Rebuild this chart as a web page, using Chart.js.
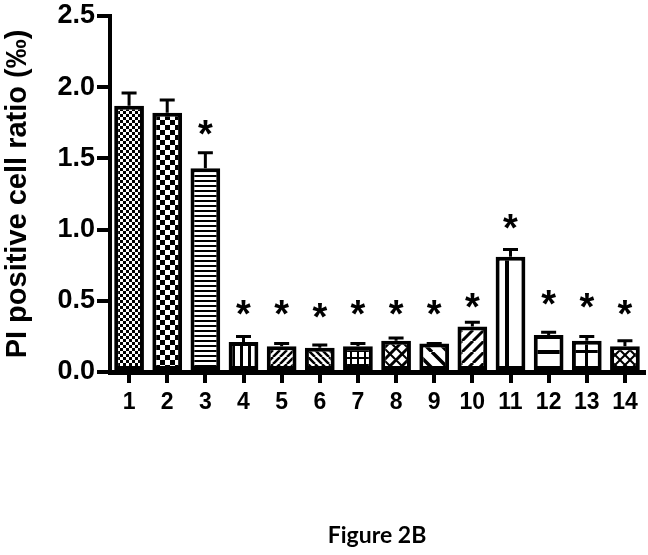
<!DOCTYPE html>
<html>
<head>
<meta charset="utf-8">
<script src="https://cdn.jsdelivr.net/npm/chart.js@4"></script>
<style>
  html, body { margin: 0; padding: 0; background: #fff; }
</style>
</head>
<body>
<canvas id="chart" width="648" height="555"></canvas>
<script>
const groups = ['1', '2', '3', '4', '5', '6', '7', '8', '9', '10', '11', '12', '13', '14'];
const means = [1.87, 1.82, 1.43, 0.21, 0.18, 0.17, 0.18, 0.22, 0.20, 0.32, 0.81, 0.26, 0.22, 0.18];
const sems = [0.10, 0.10, 0.12, 0.05, 0.03, 0.03, 0.03, 0.03, 0.01, 0.04, 0.06, 0.03, 0.04, 0.05];
// where the significance stars sit (value units), null = no star
const stars = [null, null, 1.73, 0.46, 0.46, 0.44, 0.46, 0.46, 0.46, 0.51, 1.07, 0.53, 0.51, 0.46];
const yTicks = [0, 0.5, 1.0, 1.5, 2.0, 2.5];

// little tile canvases turned into fill patterns
function pat(w, h, draw) {
  const c = document.createElement('canvas');
  c.width = w; c.height = h;
  const g = c.getContext('2d');
  g.fillStyle = '#fff';
  g.fillRect(0, 0, w, h);
  g.fillStyle = '#000';
  g.strokeStyle = '#000';
  draw(g, w, h);
  return g.createPattern(c, 'repeat');
}
function diag(g, s, lw, dir) {
  g.lineWidth = lw;
  g.beginPath();
  for (let k = -1; k <= 1; k++) {
    if (dir > 0) { g.moveTo(k * s, s); g.lineTo(k * s + s, 0); }
    else { g.moveTo(k * s, 0); g.lineTo(k * s + s, s); }
  }
  g.stroke();
}

const fills = [
  pat(6, 6, g => { g.fillRect(0, 0, 3, 3); g.fillRect(3, 3, 3, 3); }),
  pat(10, 10, g => { g.fillRect(0, 0, 5, 5); g.fillRect(5, 5, 5, 5); }),
  pat(1, 5, g => g.fillRect(0, 0, 1, 2)),
  pat(8, 1, g => g.fillRect(0, 0, 3, 1)),
  pat(7, 7, g => diag(g, 7, 2.5, 1)),
  pat(7, 7, g => diag(g, 7, 2.5, -1)),
  pat(7, 7, g => { g.fillRect(0, 0, 7, 2); g.fillRect(0, 0, 2, 7); }),
  pat(12, 12, g => { diag(g, 12, 3, 1); diag(g, 12, 2, -1); }),
  pat(16, 16, g => diag(g, 16, 3.5, -1)),
  pat(11, 11, g => diag(g, 11, 3, 1)),
  pat(24, 1, g => g.fillRect(1, 0, 4, 1)),
  pat(1, 18, g => g.fillRect(0, 8, 1, 4)),
  pat(14, 20, g => { g.fillRect(11, 0, 3, 20); g.fillRect(0, 10, 14, 3); }),
  pat(10, 10, g => { diag(g, 10, 2, 1); diag(g, 10, 2, -1); })
];

const errorBarsAndStars = {
  id: 'errorBarsAndStars',
  afterDatasetsDraw(chart) {
    const { ctx, scales: { x, y } } = chart;
    ctx.save();
    ctx.strokeStyle = '#000';
    ctx.lineWidth = 3;
    means.forEach((m, i) => {
      const px = x.getPixelForValue(i);
      const base = y.getPixelForValue(m);
      const top = y.getPixelForValue(m + sems[i]) + 1.5;
      ctx.beginPath();
      ctx.moveTo(px, base);
      ctx.lineTo(px, top);
      ctx.moveTo(px - 7.5, top);
      ctx.lineTo(px + 7.5, top);
      ctx.stroke();
    });
    const fs = 38;
    ctx.fillStyle = '#000';
    ctx.font = 'bold ' + fs + 'px "Liberation Sans", Arial, sans-serif';
    ctx.textAlign = 'center';
    ctx.textBaseline = 'alphabetic';
    stars.forEach((s, i) => {
      if (s == null) return;
      ctx.fillText('*', x.getPixelForValue(i), y.getPixelForValue(s) + 0.55 * fs);
    });
    ctx.restore();
  }
};

new Chart(document.getElementById('chart'), {
  type: 'bar',
  data: {
    labels: groups,
    datasets: [{
      data: means,
      backgroundColor: fills,
      borderColor: '#000',
      borderWidth: 4,
      borderSkipped: false,
      barPercentage: 0.78,
      categoryPercentage: 1.0
    }]
  },
  options: {
    responsive: false,
    animation: false,
    layout: { padding: { top: 16, right: 4, left: 0, bottom: 0 } },
    plugins: {
      legend: { display: false },
      tooltip: { enabled: false }
    },
    scales: {
      x: {
        afterFit: s => { s.height = 183; },
        grid: { offset: false, drawOnChartArea: false, drawTicks: true, tickLength: 11, lineWidth: 4, color: '#000' },
        border: { display: true, width: 5, color: '#000' },
        ticks: {
          color: '#000',
          padding: 8,
          maxRotation: 0,
          font: { family: '"Liberation Sans", Arial, sans-serif', size: 23, weight: 'bold', lineHeight: 1 }
        },
        title: {
          display: true,
          text: 'Figure 2B',
          color: '#000',
          padding: { bottom: 6 },
          font: { family: 'Lato, "Open Sans", sans-serif', size: 23, weight: 'bold' }
        }
      },
      y: {
        min: 0,
        max: 2.5,
        afterFit: s => { s.width = 110; },
        afterBuildTicks: s => { s.ticks = yTicks.map(v => ({ value: v })); },
        grid: { drawOnChartArea: false, drawTicks: true, tickLength: 13, lineWidth: 4, color: '#000' },
        border: { display: true, width: 4, color: '#000' },
        ticks: {
          color: '#000',
          padding: 2,
          callback: v => v.toFixed(1),
          font: { family: '"Liberation Sans", Arial, sans-serif', size: 27, weight: 'bold', lineHeight: 1 }
        },
        title: {
          display: true,
          text: 'PI positive cell ratio (‰)',
          color: '#000',
          padding: { top: 1, bottom: 0 },
          font: { family: '"Liberation Sans", Arial, sans-serif', size: 29, weight: 'bold' }
        }
      }
    }
  },
  plugins: [errorBarsAndStars]
});
</script>
</body>
</html>
